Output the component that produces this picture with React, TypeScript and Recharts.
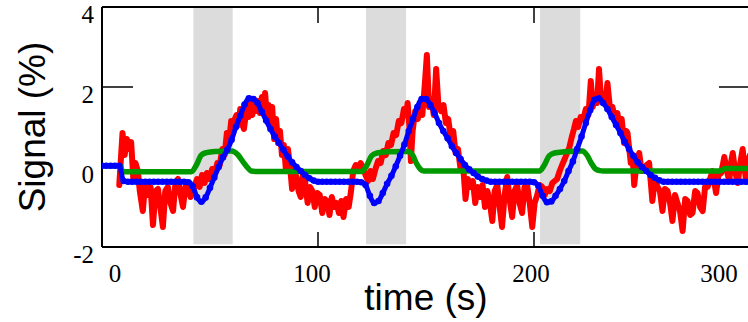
import React from 'react';
import { ComposedChart, Line, XAxis, YAxis, ReferenceArea, Label } from 'recharts';

// tick values
const xTicks = [0, 100, 200, 300];
const yTicks = [-2, 0, 2, 4];

// grey stimulus blocks (s)
const stimBlocks: [number, number][] = [
  [42.3, 60.5],
  [122.2, 140.8],
  [202.8, 221.4],
];

// measured signal, red  [time, %]
const measured: [number, number][] = [
  [8, -0.45], [9.5, 0.85], [10.5, 0.3], [11.5, 0.7], [12.5, 0.45], [13.5, 0.62], [14.5, -0.3], [15.5, 0.1],
  [16.6, -0.1], [17.5, -0.6], [18.9, -1.1], [20, -0.4], [21.3, -0.7], [22.5, -0.5], [23.6, -1.45], [24.8, -0.6],
  [25.9, -0.55], [27, -1.0], [28.2, -1.5], [29.3, -0.6], [30.5, -0.5], [31.7, -0.9], [32.9, -1.1], [34, -0.4],
  [35.2, -0.3], [36.4, -0.7], [37.5, -1.0], [38.6, -0.5], [39.8, -0.45], [41, -0.75], [42.1, -0.6],
  [43, -0.45], [44, -0.3], [45.2, -0.5], [46.3, -0.2], [47.5, -0.4], [48.6, -0.15], [49.8, -0.3], [51, -0.05],
  [52.2, -0.15], [53.4, 0.1], [54.5, 0.05], [55.7, 0.45], [56.8, 0.3], [57.8, 0.85], [58.8, 0.6], [59.8, 1.15],
  [60.6, 0.85], [61.5, 1.2], [62.3, 1.3], [63.2, 1.05], [64, 1.45], [64.8, 1.1], [65.7, 0.95], [66.9, 1.45],
  [67.8, 1.25], [68.7, 1.6], [69.6, 1.3], [70.4, 1.7], [71.3, 1.4], [72.2, 1.65], [73.1, 1.35], [74, 1.75],
  [74.8, 1.5], [75.5, 1.85], [76.3, 1.3], [77.1, 1.55], [78, 1.05], [78.8, 1.5], [79.7, 0.7], [80.6, 1.2],
  [81.5, 0.6], [82.4, 0.9], [83.3, 0.3], [84.2, 0.55], [85.2, -0.1], [86.1, 0.45], [87, 0.05], [88, -0.55],
  [89, -0.1], [90, -0.25], [91, -0.6], [92, -0.75], [93, -0.2], [94, -0.35], [95.2, -0.9], [96.3, -0.5],
  [97.4, -0.6], [98.5, -1.0], [99.6, -0.65], [100.8, -0.7], [102, -1.15], [103.1, -0.8], [104.2, -0.85], [105.3, -1.2],
  [106.4, -0.75], [107.5, -1.0], [108.6, -0.9], [109.7, -1.15], [110.8, -0.85], [111.8, -1.25], [113, -0.8], [114.2, -1.0],
  [115.3, -0.6], [116.3, -0.1], [117.5, 0.05], [118.6, -0.05], [119.7, 0.1], [120.8, 0.0], [122, -0.2], [123.2, -0.35],
  [124.3, -0.1], [125.4, -0.3], [126.6, -0.05], [127.8, 0.15], [129, 0.1], [130.2, 0.4], [131.4, 0.3], [132.6, 0.6],
  [133.8, 0.55], [135, 0.85], [136.2, 0.8], [137.4, 1.15], [138.6, 1.1], [139.8, 1.45], [140.8, 1.3], [141.5, 1.6],
  [142.3, 1.0], [143, 0.15], [143.8, 0.9], [145, 1.4], [146.2, 1.2], [147.3, 1.55], [148.3, 1.3], [149.5, 2.1],
  [150.4, 2.8], [151.4, 1.5], [152.5, 1.7], [153.6, 1.3], [154.7, 2.45], [155.8, 1.5], [157, 1.4], [158.1, 1.55],
  [159.2, 1.1], [160.3, 1.2], [161.4, 0.75], [162.6, 0.9], [163.7, 0.35], [164.8, 0.45], [166, -0.05], [167.1, 0.1],
  [168.3, -0.8], [169.4, -0.3], [170.6, -0.5], [171.7, -0.35], [172.8, -0.9], [173.9, -0.5], [175, -0.75], [176.2, -0.45],
  [177.3, -1.0], [178.4, -0.6], [179.6, -0.9], [180.7, -1.35], [181.8, -0.6], [183, -0.45], [184.1, -1.0], [185.2, -1.5],
  [186.4, -0.7], [187.6, -0.25], [188.7, -0.8], [189.9, -1.25], [191, -0.6], [192.2, -0.45], [193.3, -0.9], [194.5, -1.15],
  [195.6, -0.5], [196.8, -0.45], [198, -0.9], [199.2, -1.5], [200.3, -0.9], [201.5, -0.7], [202.6, -0.45], [203.8, -0.5],
  [205, -0.7], [206.1, -0.55], [207.3, -0.6], [208.5, -0.4], [209.6, -0.35], [210.7, -0.3], [211.9, -0.1], [213, 0.05],
  [214.2, 0.2], [215.3, 0.35], [216.4, 0.5], [217.5, 0.75], [218.5, 0.95], [219.4, 1.15], [220.5, 1.0], [221.6, 1.25],
  [222.8, 1.2], [224, 1.45], [225.2, 1.3], [226.3, 2.15], [227.2, 1.5], [228.2, 1.8], [229.2, 1.6], [230.1, 2.45],
  [231, 1.7], [231.8, 1.65], [233, 1.6], [234, 2.1], [235.2, 1.45], [236.3, 1.5], [237.5, 1.2], [238.6, 1.35],
  [239.7, 1.0], [240.6, 1.2], [241.7, 0.6], [242.7, 0.9], [243.3, 0.85], [244.8, 0.1], [245.6, 0.3], [246.4, -0.45],
  [247.5, 0.1], [248.7, 0.35], [249.8, -0.1], [251, -0.05], [252.2, 0.05], [253.3, 0.1], [254.8, -0.85], [256, -0.3],
  [257.2, -0.5], [258.3, -0.6], [259.5, -1.1], [260.6, -0.55], [261.8, -0.6], [263, -0.9], [264.1, -1.35], [265.3, -0.7],
  [266.4, -0.9], [267.6, -1.1], [268.8, -1.6], [270, -0.8], [271.1, -0.85], [272.3, -1.2], [273.4, -1.15], [274.6, -0.6],
  [275.7, -0.65], [276.9, -1.0], [278.1, -1.1], [279.2, -0.5], [280.4, -0.5], [281.5, -0.3], [282.7, -0.1], [283.5, -0.4],
  [284.3, -0.65], [285.4, -0.2], [286.6, -0.15], [287.4, 0.05], [288.1, 0.25], [289.3, -0.1], [290.4, -0.35], [291.2, 0.1],
  [292, 0.35], [293.1, -0.1], [294.3, -0.4], [295.5, 0.1], [296.6, 0.45], [297.4, 0.0], [298.2, -0.35], [299.3, 0.2],
  [300, 0.3],
];

// model fit, blue, one value every 2 s from t = 0
const fitStep = 2;
const modelFit = [
  0.03, 0.03, 0.03, 0.03, 0.03, -0.35, -0.37, -0.37, -0.37, -0.37,
  -0.37, -0.37, -0.37, -0.37, -0.37, -0.37, -0.37, -0.37, -0.37, -0.37,
  -0.38, -0.48, -0.76, -0.87, -0.76, -0.52, -0.26, 0.0, 0.24, 0.43,
  0.68, 1.0, 1.28, 1.56, 1.72, 1.7, 1.6, 1.38, 1.16, 0.95,
  0.76, 0.6, 0.43, 0.26, 0.12, 0.0, -0.1, -0.2, -0.28, -0.34,
  -0.37, -0.37, -0.37, -0.37, -0.37, -0.37, -0.37, -0.37, -0.37, -0.37,
  -0.38, -0.45, -0.72, -0.9, -0.85, -0.65, -0.42, -0.22, 0.02, 0.28,
  0.56, 0.9, 1.2, 1.5, 1.7, 1.7, 1.55, 1.35, 1.1, 0.9,
  0.72, 0.52, 0.35, 0.2, 0.05, -0.06, -0.15, -0.24, -0.3, -0.34,
  -0.37, -0.37, -0.37, -0.37, -0.37, -0.37, -0.37, -0.37, -0.37, -0.37,
  -0.38, -0.47, -0.72, -0.88, -0.86, -0.72, -0.55, -0.35, -0.1, 0.14,
  0.45, 0.76, 1.1, 1.42, 1.68, 1.72, 1.6, 1.45, 1.25, 1.05,
  0.85, 0.63, 0.45, 0.28, 0.12, 0.0, -0.1, -0.2, -0.27, -0.33,
  -0.37, -0.37, -0.37, -0.37, -0.37, -0.37, -0.37, -0.37, -0.37, -0.37,
  -0.37, -0.37, -0.37, -0.37, -0.37, -0.37, -0.37, -0.37, -0.37, -0.37,
  -0.37,
];

// stimulus regressor, green  [time, %]
const regressor: [number, number][] = [
  [0, 0.03], [8.5, 0.03], [9.5, -0.12], [41.4, -0.12], [43.7, 0.05], [46, 0.3], [48.3, 0.36], [52.2, 0.39],
  [60, 0.4], [63, 0.3], [65.3, 0.13], [67.6, -0.03], [69.1, -0.1], [71, -0.11], [120.3, -0.11], [122.5, 0.03],
  [124.8, 0.28], [127.3, 0.35], [132, 0.38], [141.5, 0.39], [143.8, 0.3], [145.5, 0.1], [147.3, -0.05], [149, -0.1],
  [151, -0.1], [202.5, -0.1], [204.8, 0.05], [207, 0.28], [209.5, 0.35], [214, 0.38], [222.3, 0.4], [224.5, 0.3],
  [226.5, 0.1], [228.5, -0.05], [230.5, -0.09], [232, -0.1], [286, -0.1], [288.5, -0.04], [300, -0.04],
];

const measuredData = measured.map(([t, v]) => ({ t, v }));
const fitData = modelFit.map((v, i) => ({ t: i * fitStep, v }));
const regressorData = regressor.map(([t, v]) => ({ t, v }));

const serif = '"Liberation Serif", "Times New Roman", serif';
const sans = '"Liberation Sans", Arial, sans-serif';

// the original labels sit a bit off their ticks
const xLabelShift: Record<number, number> = { 0: 13, 100: -6, 200: -3, 300: -31 };

const BottomTick = (props: any) => {
  const { x, y, payload } = props;
  return (
    <g>
      <line x1={x} y1={y} x2={x} y2={y - 15} stroke="#000" strokeWidth={1.5} />
      <text x={x + (xLabelShift[payload.value] ?? 0)} y={y + 35} textAnchor="middle" fontFamily={serif} fontSize={25} fill="#000">
        {payload.value}
      </text>
    </g>
  );
};

const TopTick = (props: any) => {
  const { x, y } = props;
  return <line x1={x} y1={y} x2={x} y2={y + 16} stroke="#000" strokeWidth={1.5} />;
};

const LeftTick = (props: any) => {
  const { x, y, payload } = props;
  return (
    <g>
      {payload.value === 2 && <line x1={x} y1={y} x2={x + 31} y2={y} stroke="#000" strokeWidth={1.5} />}
      <text x={x - 8} y={y + 16} textAnchor="end" fontFamily={serif} fontSize={25} fill="#000">
        {payload.value}
      </text>
    </g>
  );
};

const RightTick = (props: any) => {
  const { x, y, payload } = props;
  if (payload.value !== 2) return <g />;
  return <line x1={x} y1={y} x2={x - 31} y2={y} stroke="#000" strokeWidth={1.5} />;
};

const frame = { stroke: '#000', strokeWidth: 2 };

export default function App() {
  return (
    <div style={{ width: 748, height: 322, overflow: 'hidden', background: '#fff' }}>
      <style>{'body{margin:0}'}</style>
      <ComposedChart width={751} height={322} margin={{ top: 6, right: 0, bottom: 74, left: 101 }}>
        {stimBlocks.map(([a, b]) => (
          <ReferenceArea key={a} x1={a} x2={b} y1={-1.93} y2={4} fill="#dcdcdc" fillOpacity={1} stroke="none" />
        ))}
        <XAxis
          dataKey="t"
          type="number"
          domain={[0, 300]}
          ticks={xTicks}
          interval={0}
          allowDataOverflow
          height={1}
          tickSize={0}
          tickMargin={0}
          tickLine={false}
          axisLine={frame}
          tick={(p: any) => <BottomTick {...p} />}
        >
          <Label value="time (s)" position="bottom" offset={36} fontFamily={sans} fontSize={37} fill="#000" />
        </XAxis>
        <XAxis
          xAxisId="top"
          orientation="top"
          dataKey="t"
          type="number"
          domain={[0, 300]}
          ticks={xTicks}
          interval={0}
          allowDataOverflow
          height={1}
          tickSize={0}
          tickMargin={0}
          tickLine={false}
          axisLine={frame}
          tick={(p: any) => <TopTick {...p} />}
        />
        <YAxis
          type="number"
          domain={[-2, 4]}
          ticks={yTicks}
          interval={0}
          allowDataOverflow
          width={1}
          tickSize={0}
          tickMargin={0}
          tickLine={false}
          axisLine={frame}
          tick={(p: any) => <LeftTick {...p} />}
        >
          <Label
            value="Signal (%)"
            angle={-90}
            position="left"
            offset={69}
            style={{ textAnchor: 'middle' }}
            fontFamily={sans}
            fontSize={37}
            fill="#000"
          />
        </YAxis>
        <YAxis
          yAxisId="right"
          orientation="right"
          type="number"
          domain={[-2, 4]}
          ticks={yTicks}
          interval={0}
          allowDataOverflow
          width={1}
          tickSize={0}
          tickMargin={0}
          tickLine={false}
          axisLine={frame}
          tick={(p: any) => <RightTick {...p} />}
        />
        <Line
          data={measuredData}
          dataKey="v"
          type="linear"
          stroke="#ff0000"
          strokeWidth={6}
          strokeLinejoin="round"
          strokeLinecap="round"
          dot={false}
          isAnimationActive={false}
        />
        <Line
          data={regressorData}
          dataKey="v"
          type="monotone"
          stroke="#009a00"
          strokeWidth={5.5}
          dot={false}
          isAnimationActive={false}
        />
        <Line
          data={fitData}
          dataKey="v"
          type="monotone"
          stroke="#0000ff"
          strokeWidth={5}
          dot={{ r: 3.3, fill: '#0000ff', stroke: 'none', strokeWidth: 0 }}
          isAnimationActive={false}
        />
      </ComposedChart>
    </div>
  );
}
